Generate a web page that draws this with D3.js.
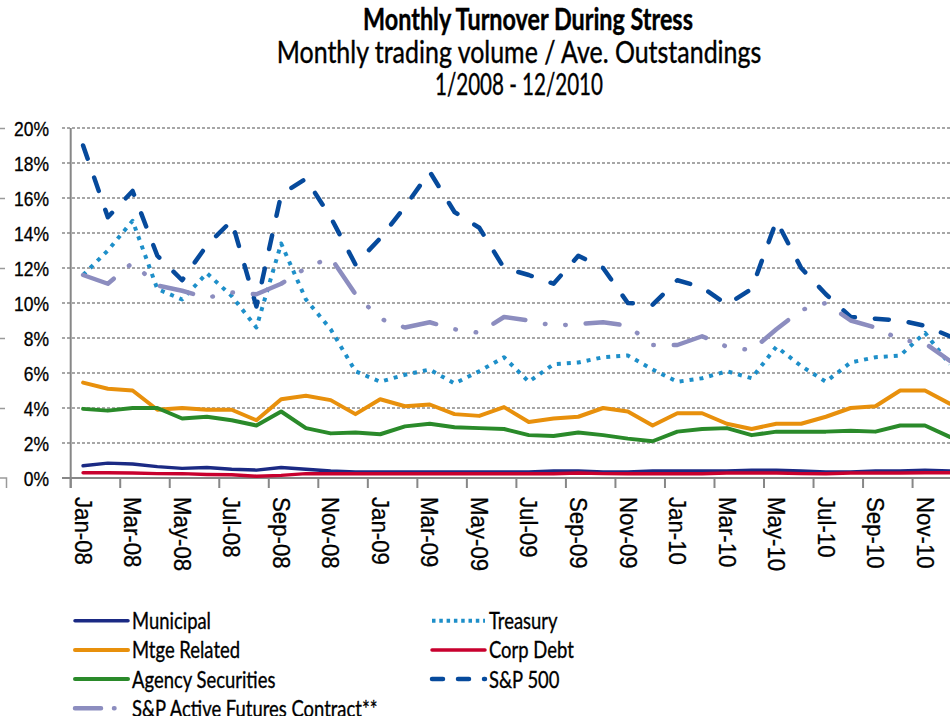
<!DOCTYPE html>
<html lang="en">
<head>
<meta charset="utf-8">
<script src="https://cdn.jsdelivr.net/npm/d3@7"></script>
<style>
    body { margin: 0; background: #fff; }
    .title { font-family: Lato, "Open Sans", sans-serif; font-size: 31px; fill: #000; stroke: #000; stroke-width: 0.4px; }
    .axis text { font-family: "Liberation Sans", Arial, sans-serif; fill: #000; stroke: #000; stroke-width: 0.3px; }
    .legend text { font-family: Lato, "Open Sans", sans-serif; font-size: 23.3px; fill: #000; stroke: #000; stroke-width: 0.35px; }
</style>
</head>
<body>
<svg width="950" height="716"></svg>
<script>
    // categories
    var months = ["Jan-08", "Feb-08", "Mar-08", "Apr-08", "May-08", "Jun-08", "Jul-08", "Aug-08", "Sep-08", "Oct-08", "Nov-08", "Dec-08",
        "Jan-09", "Feb-09", "Mar-09", "Apr-09", "May-09", "Jun-09", "Jul-09", "Aug-09", "Sep-09", "Oct-09", "Nov-09", "Dec-09",
        "Jan-10", "Feb-10", "Mar-10", "Apr-10", "May-10", "Jun-10", "Jul-10", "Aug-10", "Sep-10", "Oct-10", "Nov-10", "Dec-10"];

    // series values, % turnover
    var municipal = [0.7, 0.85, 0.8, 0.65, 0.55, 0.6, 0.5, 0.45, 0.6, 0.5, 0.4, 0.35,
        0.35, 0.35, 0.35, 0.35, 0.35, 0.35, 0.35, 0.4, 0.4, 0.35, 0.35, 0.4,
        0.4, 0.4, 0.4, 0.45, 0.45, 0.4, 0.35, 0.35, 0.4, 0.4, 0.45, 0.4];
    var treasury = [11.6, 13.0, 14.7, 10.8, 10.2, 11.7, 10.4, 8.6, 13.4, 10.2, 8.5, 6.1,
        5.5, 5.9, 6.2, 5.4, 6.1, 6.9, 5.5, 6.5, 6.6, 6.9, 7.0, 6.2,
        5.5, 5.7, 6.1, 5.7, 7.5, 6.4, 5.5, 6.6, 6.9, 7.0, 8.3, 6.5];
    var mtgeRelated = [5.45, 5.1, 5.0, 3.9, 4.0, 3.9, 3.9, 3.3, 4.5, 4.7, 4.45, 3.65,
        4.5, 4.1, 4.2, 3.65, 3.55, 4.05, 3.2, 3.4, 3.5, 4.0, 3.8, 3.0,
        3.7, 3.7, 3.1, 2.8, 3.1, 3.1, 3.5, 4.0, 4.1, 5.0, 5.0, 4.25];
    var corpDebt = [0.3, 0.3, 0.28, 0.25, 0.25, 0.2, 0.18, 0.1, 0.15, 0.25, 0.25, 0.25,
        0.25, 0.25, 0.25, 0.25, 0.25, 0.25, 0.25, 0.25, 0.28, 0.25, 0.25, 0.25,
        0.25, 0.25, 0.28, 0.28, 0.28, 0.25, 0.25, 0.28, 0.28, 0.28, 0.3, 0.3];
    var agency = [3.95, 3.85, 4.0, 4.0, 3.4, 3.5, 3.3, 3.0, 3.8, 2.85, 2.55, 2.6,
        2.5, 2.95, 3.1, 2.9, 2.85, 2.8, 2.45, 2.4, 2.6, 2.45, 2.25, 2.1,
        2.65, 2.8, 2.85, 2.45, 2.65, 2.65, 2.65, 2.7, 2.65, 3.0, 3.0, 2.35];
    var sp500 = [19.0, 14.9, 16.4, 12.7, 11.3, 13.3, 14.7, 9.8, 16.2, 17.1, 14.9, 12.2,
        13.7, 15.5, 17.5, 15.2, 14.3, 12.0, 11.6, 11.1, 12.7, 12.0, 10.0, 9.9,
        11.3, 10.9, 9.9, 10.8, 14.7, 12.0, 10.5, 9.2, 9.1, 9.0, 8.7, 8.1];
    var spFutures = [11.6, 11.1, 12.3, 11.0, 10.7, 10.3, 10.6, 10.5, 11.1, 12.0, 12.6, 10.5,
        9.1, 8.6, 8.9, 8.5, 8.3, 9.2, 9.0, 8.7, 8.8, 8.9, 8.7, 7.6,
        7.6, 8.1, 7.5, 7.3, 8.5, 9.6, 10.0, 9.0, 8.6, 7.9, 7.7, 6.7];

    // tick values
    var yTicks = [0, 2, 4, 6, 8, 10, 12, 14, 16, 18, 20];
    var titleLines = ["Monthly Turnover During Stress", "Monthly trading volume / Ave. Outstandings", "1/2008 - 12/2010"];

    var series = [
        { name: "Municipal", values: municipal, color: "#1b2a84", width: 3.5, dash: null, legendDash: null, cap: "round" },
        { name: "Treasury", values: treasury, color: "#1e8fc9", width: 4, dash: "4 6", legendDash: "3.5 3.8", cap: "butt" },
        { name: "Mtge Related", values: mtgeRelated, color: "#e8900c", width: 4, dash: null, legendDash: null, cap: "round" },
        { name: "Corp Debt", values: corpDebt, color: "#c8002e", width: 3.5, dash: null, legendDash: null, cap: "round" },
        { name: "Agency Securities", values: agency, color: "#2a8a2a", width: 4, dash: null, legendDash: null, cap: "round" },
        { name: "S&P 500", values: sp500, color: "#064a9c", width: 4.5, dash: "14 20", legendDash: "11 15", cap: "round" },
        { name: "S&P Active Futures Contract**", values: spFutures, color: "#8c8dbf", width: 4.5, dash: "34 20 0.5 20 0.5 20", legendDash: "26 13 0.5 60", cap: "round" }
    ];

    var svg = d3.select("svg");

    var x = d3.scaleBand().domain(months).range([70.7, 962.1]);
    var y = d3.scaleLinear().domain([0, 20]).range([478, 128]);

    // squeeze a text horizontally so it spans a target width
    function fitScale(textSel, target) {
        return target / textSel.node().getComputedTextLength();
    }

    // title
    var titlePos = [{ cx: 528, y: 30, w: 330, bold: true }, { cx: 519, y: 63, w: 485 }, { cx: 519, y: 95, w: 168 }];
    titleLines.forEach(function (t, i) {
        var p = titlePos[i];
        var txt = svg.append("g")
            .attr("transform", "translate(" + p.cx + "," + p.y + ")")
            .append("text")
            .attr("class", "title")
            .attr("text-anchor", "middle")
            .style("font-weight", p.bold ? "bold" : "normal")
            .text(t);
        txt.attr("transform", "scale(" + fitScale(txt, p.w) + ",1)");
    });

    // cropped neighbouring axis remnants at the left edge
    svg.append("g")
        .attr("transform", "translate(5,0)")
        .call(d3.axisLeft(y).tickValues([4, 8, 12, 16, 20]).tickSize(5).tickFormat(""))
        .call(function (g) { g.select(".domain").remove(); })
        .selectAll("line").attr("stroke", "#9a9a9a").attr("stroke-width", 1.5);
    svg.append("path")
        .attr("d", "M0," + y(0) + "H6.5V" + (y(0) + 10))
        .attr("fill", "none").attr("stroke", "#9a9a9a").attr("stroke-width", 1.5);

    // gridlines
    svg.append("g").selectAll("line")
        .data(yTicks.filter(function (d) { return d > 0; }))
        .enter().append("line")
        .attr("x1", 62).attr("x2", 962)
        .attr("y1", function (d) { return y(d); })
        .attr("y2", function (d) { return y(d); })
        .attr("stroke", "#8a8a8a")
        .attr("stroke-width", 1.5)
        .attr("stroke-dasharray", "3 2");

    // y axis
    var yAxis = svg.append("g")
        .attr("class", "axis")
        .attr("transform", "translate(70.7,0)")
        .call(d3.axisLeft(y).tickValues(yTicks).tickSize(0).tickSizeOuter(0).tickFormat(function (d) { return d + "%"; }));
    yAxis.select(".domain")
        .attr("d", "M0," + y(20) + "V" + (y(0) + 10))
        .attr("stroke", "#878787").attr("stroke-width", 2);
    var yText = yAxis.selectAll("text").attr("x", 0).attr("dy", "0.36em").style("font-size", "19.5px");
    var ySx = fitScale(yAxis.selectAll(".tick").filter(function (d) { return d === 20; }).select("text"), 35);
    yText.attr("transform", "translate(-21.7,0) scale(" + ySx + ",1)");

    // x axis, labels on every other month
    var evenMonths = months.filter(function (d, i) { return i % 2 === 0; });
    var xAxis = svg.append("g")
        .attr("class", "axis")
        .attr("transform", "translate(0," + y(0) + ")")
        .call(d3.axisBottom(x).tickValues(evenMonths).tickSize(0).tickSizeOuter(0));
    xAxis.select(".domain").attr("d", "M62,0H962").attr("stroke", "#878787").attr("stroke-width", 2);
    var xText = xAxis.selectAll("text")
        .attr("y", 0).attr("dy", null)
        .attr("text-anchor", "start")
        .attr("dominant-baseline", "central")
        .style("font-size", "24px");
    var xSx = fitScale(xText, 68);
    xText.attr("transform", "translate(0,19) rotate(90) scale(" + xSx + ",1)");

    // tick marks sit between categories
    xAxis.append("g").selectAll("line")
        .data(evenMonths)
        .enter().append("line")
        .attr("x1", function (d) { return x(d); })
        .attr("x2", function (d) { return x(d); })
        .attr("y1", 0).attr("y2", 10)
        .attr("stroke", "#878787").attr("stroke-width", 2);

    // lines
    var line = d3.line()
        .x(function (d, i) { return x(months[i]) + x.bandwidth() / 2; })
        .y(function (d) { return y(d); });

    svg.append("g").selectAll("path")
        .data(series)
        .enter().append("path")
        .attr("d", function (d) { return line(d.values); })
        .attr("fill", "none")
        .attr("stroke", function (d) { return d.color; })
        .attr("stroke-width", function (d) { return d.width; })
        .attr("stroke-linecap", function (d) { return d.cap; })
        .attr("stroke-linejoin", "round")
        .attr("stroke-dasharray", function (d) { return d.dash; });

    // legend, two columns in series order
    var legend = svg.append("g").attr("class", "legend");
    var items = legend.selectAll("g")
        .data(series)
        .enter().append("g")
        .attr("transform", function (d, i) {
            var col = i % 2, row = Math.floor(i / 2);
            return "translate(" + (col ? 432 : 75) + "," + (620.7 + row * 29.2) + ")";
        });
    items.append("line")
        .attr("x1", 0).attr("x2", 53)
        .attr("stroke", function (d) { return d.color; })
        .attr("stroke-width", function (d) { return d.width; })
        .attr("stroke-linecap", function (d) { return d.cap; })
        .attr("stroke-dasharray", function (d) { return d.legendDash; });
    var legText = items.append("text")
        .attr("dy", "0.36em")
        .text(function (d) { return d.name; });
    var legSx = fitScale(legText.filter(function (d) { return d.name === "Municipal"; }), 79);
    legText.attr("transform", "translate(57,0) scale(" + legSx + ",1)");
</script>
</body>
</html>
